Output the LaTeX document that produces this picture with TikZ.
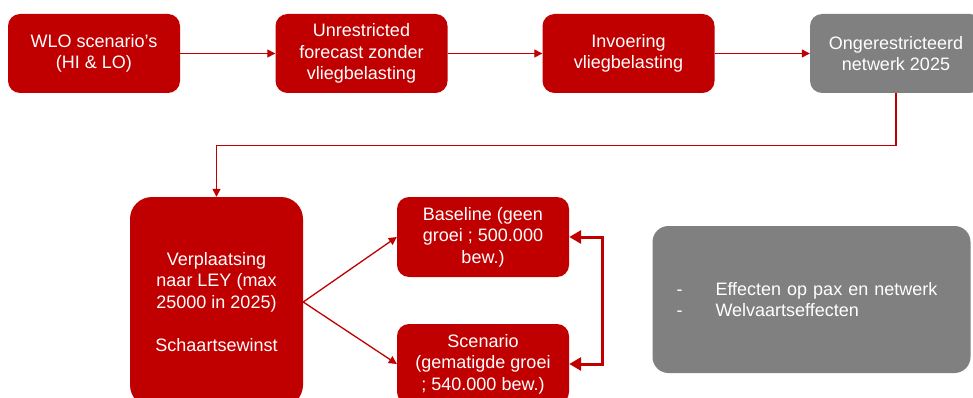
\documentclass[tikz,border=0pt]{standalone}
\usepackage{fontspec}
\setmainfont{Liberation Sans}
\usetikzlibrary{arrows.meta, positioning, calc}
\definecolor{FLRED}{HTML}{C00000}
\definecolor{FLGREY}{HTML}{808080}

\begin{document}
\begin{tikzpicture}[x=1pt, y=-1pt,
          box/.style={rectangle, fill=FLRED, rounded corners=12pt, text=white,
                      minimum width=172pt, minimum height=79pt, align=center,
                      inner sep=2pt, font=\fontsize{18}{21.5}\selectfont},
          greybox/.style={box, fill=FLGREY},
          arr/.style={-{Triangle[length=8pt, width=8pt]}, line width=1.3pt, FLRED},
          dblarr/.style={{Triangle[length=12pt, width=13pt]}-{Triangle[length=12pt, width=13pt]},
                         line width=3pt, FLRED}
        ]
          \useasboundingbox (0,0) rectangle (973,398);
          \clip (0,0) rectangle (973,398);
          \node[box] (wlo) at (94,53.5) {WLO scenario’s\\(HI \& LO)};
          \node[box] (forecast) at (361.5,53.5) {Unrestricted\\forecast zonder\\vliegbelasting};
          \node[box] (tax) at (628.5,53.5) {Invoering\\vliegbelasting};
          \node[greybox] (network) at (896,53.5) {Ongerestricteerd\\netwerk 2025};
          \node[box, minimum width=173pt, minimum height=210pt, rounded corners=22pt]
                (shift) at (216.5,302) {Verplaatsing\\naar LEY (max\\25000 in 2025)\\[21.5pt]Schaartsewinst};
          \node[box, minimum height=80pt] (baseline) at (483,237) {Baseline (geen\\groei ; 500.000\\bew.)};
          \node[box, minimum height=80pt] (scenario) at (483,364) {Scenario\\(gematigde groei\\; 540.000 bew.)};
          \node[greybox, minimum width=317pt, minimum height=147pt, rounded corners=16pt,
                align=left, text width=270pt, inner xsep=24pt] (effects) at (811.5,299.5)
                {\makebox[39pt][l]{-}Effecten op pax en netwerk\\\makebox[39pt][l]{-}Welvaartseffecten};
          \draw[arr] (wlo) -- (forecast);
          \draw[arr] (forecast) -- (tax);
          \draw[arr] (tax) -- (network);
          \draw[arr] (network.south) -- ++(0,52) -| (shift.north);
          \draw[arr] (shift.east) -- (baseline.west);
          \draw[arr] (shift.east) -- (scenario.west);
          \draw[dblarr] (baseline.east) -- ++(33,0) |- (scenario.east);
        \end{tikzpicture}
\end{document}
